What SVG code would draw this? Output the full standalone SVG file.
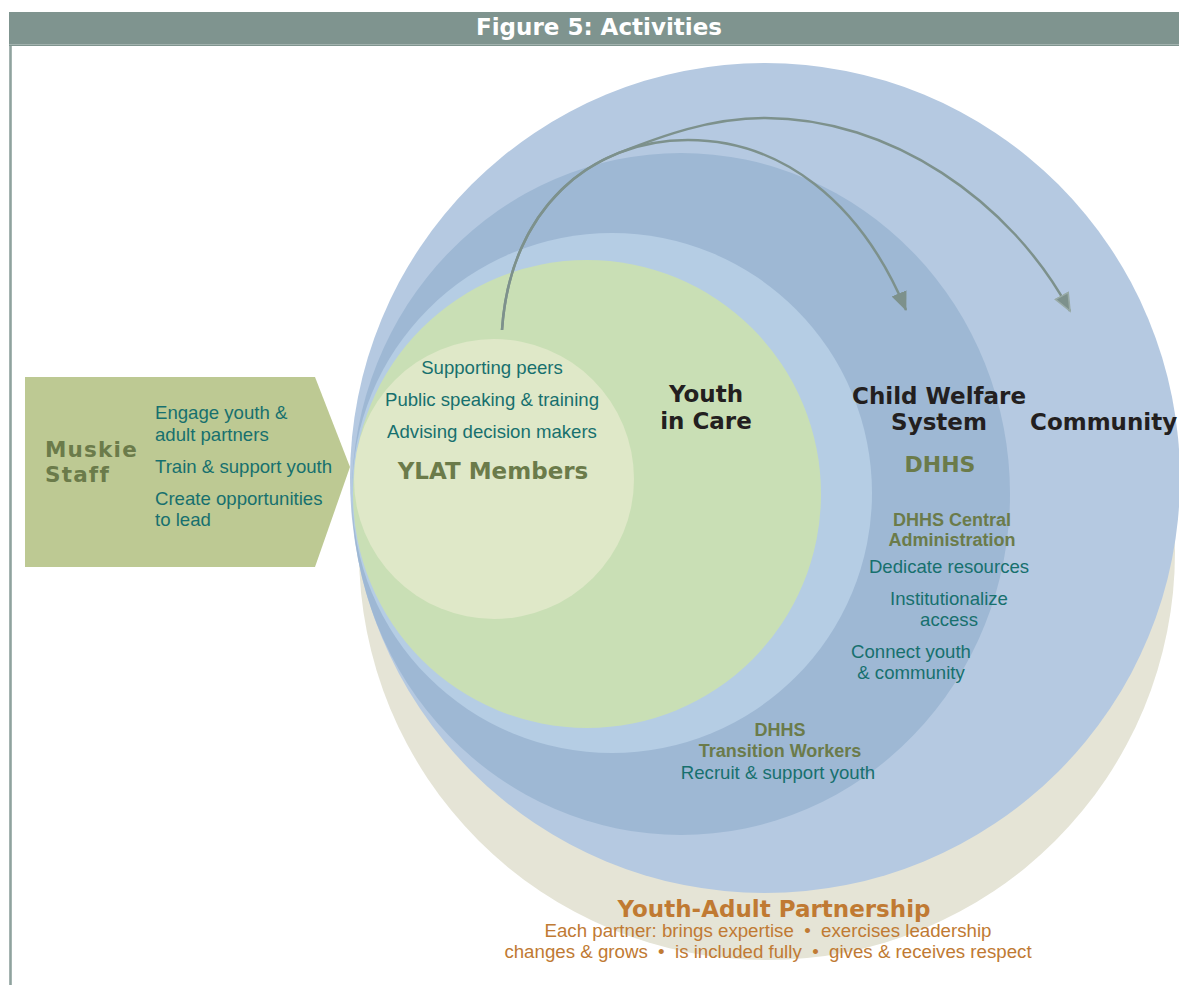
<svg xmlns="http://www.w3.org/2000/svg" width="1179" height="985" viewBox="0 0 1179 985">
<style>
.hd{font-family:"DejaVu Sans","Liberation Sans",sans-serif;font-weight:bold}
.bk{fill:#231f20}
.gn{fill:#6b7b4a}
.tl{font-family:"Liberation Sans",Arial,sans-serif;fill:#17706e;font-size:18.6px}
.gb{font-family:"Liberation Sans",Arial,sans-serif;font-weight:bold;fill:#6b7b4a;font-size:18px}
.or{font-family:"Liberation Sans",Arial,sans-serif;fill:#c07a33;font-size:18.7px}
.conn{fill:none;stroke:#7d918c;stroke-width:2.5}
</style>
<defs>
<marker id="ah" markerUnits="userSpaceOnUse" markerWidth="22" markerHeight="18" refX="18" refY="8" orient="auto">
<path d="M0,0 L19,8 L0,16 z" fill="#7d918c"/>
</marker>
<marker id="ah2" markerUnits="userSpaceOnUse" markerWidth="22" markerHeight="18" refX="18" refY="8" orient="auto">
<path d="M0.8,0.8 L18,8 L0.8,15.2 z" fill="#7d918c" stroke="#98aaa6" stroke-width="1.6"/>
</marker>
</defs>
<rect width="1179" height="985" fill="#ffffff"/>
<g id="header">
<rect x="9" y="12" width="1170" height="34" fill="#7f948f"/>
<line x1="9" y1="44.5" x2="1179" y2="44.5" stroke="#a3b3af" stroke-width="1.2"/>
<line x1="10.5" y1="46" x2="10.5" y2="985" stroke="#8fa29e" stroke-width="2.6"/>
<text x="599" y="35" text-anchor="middle" class="hd" font-size="23" fill="#ffffff">Figure 5: Activities</text>
</g>
<g id="muskie-staff">
<polygon points="25,377 315,377 350,467 315,567 25,567" fill="#bdc993"/>
<text class="hd gn" font-size="21.5" letter-spacing="1.2"><tspan x="45" y="457">Muskie</tspan><tspan x="45" y="482">Staff</tspan></text>
<text class="tl"><tspan x="155" y="419">Engage youth &amp;</tspan><tspan x="155" y="441">adult partners</tspan><tspan x="155" y="473">Train &amp; support youth</tspan><tspan x="155" y="505">Create opportunities</tspan><tspan x="155" y="526">to lead</tspan></text>
</g>
<g id="youth-adult-partnership">
<circle cx="767" cy="552" r="408" fill="#e5e4d6"/>
<text x="774" y="917" text-anchor="middle" class="hd" font-size="23" fill="#c07a33">Youth-Adult Partnership</text>
<text x="768" y="937" text-anchor="middle" class="or" xml:space="preserve">Each partner: brings expertise  •  exercises leadership</text>
<text x="768" y="958" text-anchor="middle" class="or" xml:space="preserve">changes &amp; grows  •  is included fully  •  gives &amp; receives respect</text>
</g>
<g id="community">
<circle cx="765" cy="478" r="415" fill="#b5c9e1"/>
</g>
<g id="child-welfare-system">
<ellipse cx="681" cy="494" rx="329" ry="341" fill="#9eb8d4"/>
</g>
<g id="youth-in-care">
<circle cx="612" cy="493" r="260" fill="#b5cde4"/>
<circle cx="587" cy="494" r="234" fill="#c9dfb5"/>
</g>
<g id="ylat-members">
<circle cx="494" cy="479" r="140" fill="#dfe8c8"/>
</g>
<g id="connectors">
<path class="conn" d="M502,330 C508,240 554.5,178.1 618.8,152.9 C661.6,136 710,118 765,118 C890,118 1010,200 1070,311" marker-end="url(#ah2)"/>
<path class="conn" d="M502,330 C510,210 590,140 688,140 C780,140 860,200 906,310" marker-end="url(#ah)"/>
</g>
<g id="labels">
<text class="tl" text-anchor="middle"><tspan x="492" y="374">Supporting peers</tspan><tspan x="492" y="406">Public speaking &amp; training</tspan><tspan x="492" y="438">Advising decision makers</tspan></text>
<text x="493" y="479" text-anchor="middle" class="hd gn" font-size="23">YLAT Members</text>
<text class="hd bk" font-size="23" text-anchor="middle"><tspan x="706" y="402">Youth</tspan><tspan x="706" y="429">in Care</tspan></text>
<text class="hd bk" font-size="23" text-anchor="middle"><tspan x="939" y="404">Child Welfare</tspan><tspan x="939" y="430">System</tspan></text>
<text x="1030" y="430" class="hd bk" font-size="23">Community</text>
<text x="940" y="472" text-anchor="middle" class="hd gn" font-size="22">DHHS</text>
<text class="gb" text-anchor="middle"><tspan x="952" y="526">DHHS Central</tspan><tspan x="952" y="546">Administration</tspan></text>
<text class="tl" text-anchor="middle"><tspan x="949" y="573">Dedicate resources</tspan><tspan x="949" y="605">Institutionalize</tspan><tspan x="949" y="626">access</tspan><tspan x="911" y="658">Connect youth</tspan><tspan x="911" y="679">&amp; community</tspan></text>
<text class="gb" text-anchor="middle"><tspan x="780" y="736">DHHS</tspan><tspan x="780" y="757">Transition Workers</tspan></text>
<text x="778" y="779" text-anchor="middle" class="tl">Recruit &amp; support youth</text>
</g>
</svg>
